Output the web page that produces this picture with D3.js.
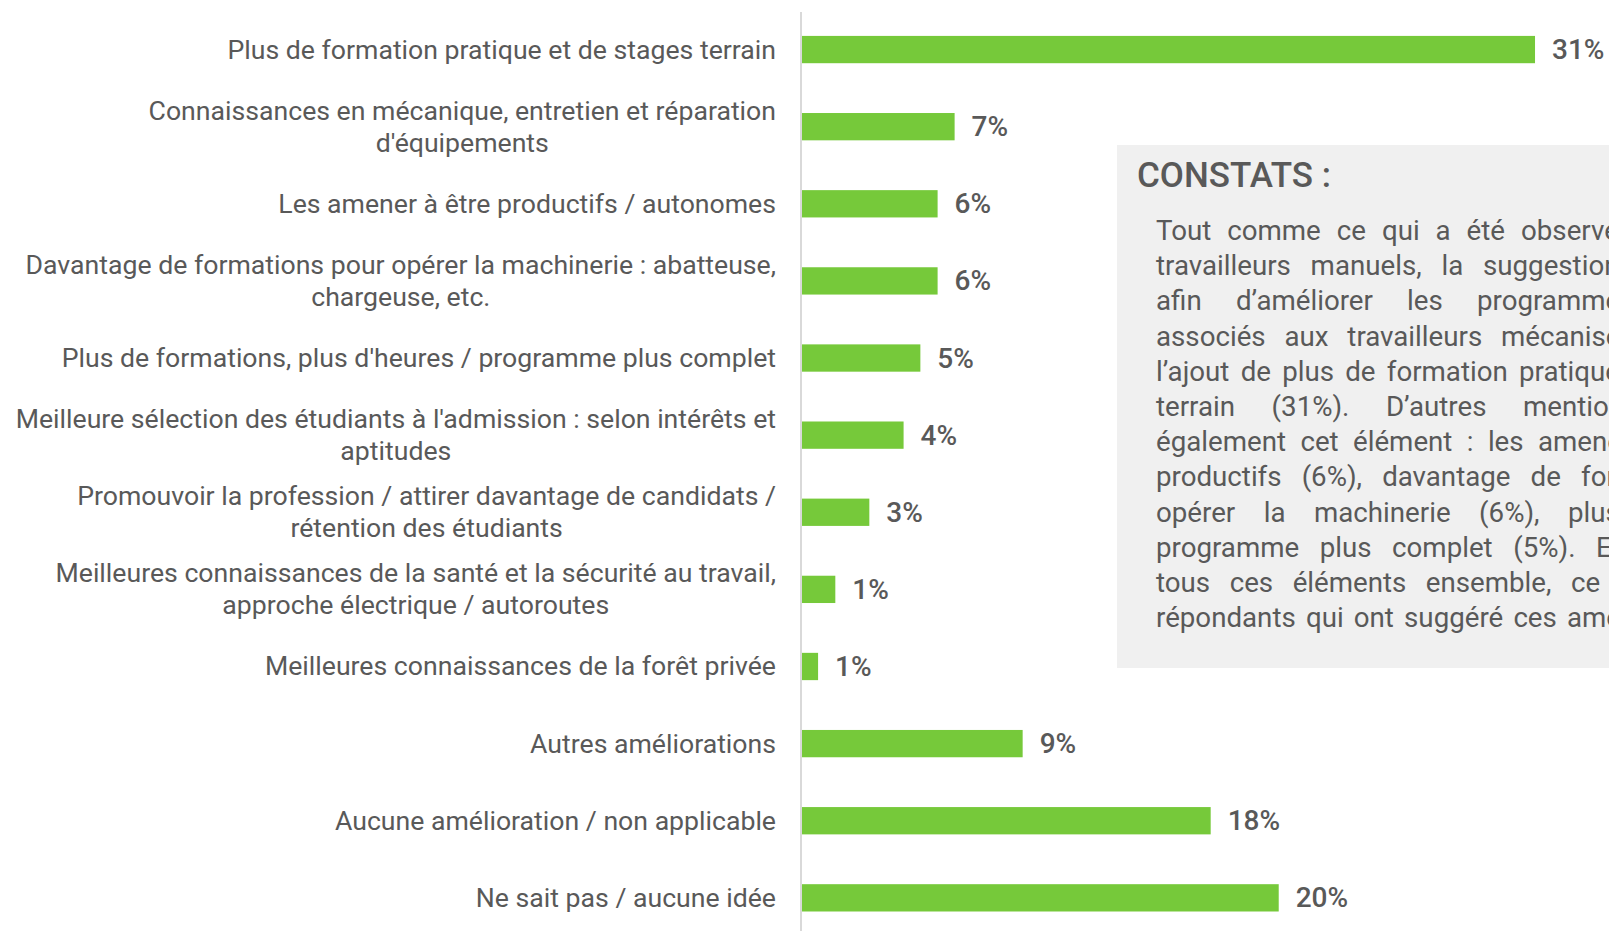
<!DOCTYPE html>
<html>
<head>
<meta charset="utf-8">
<script src="https://cdn.jsdelivr.net/npm/d3@7"></script>
<style>
  html, body { margin: 0; padding: 0; background: #ffffff; overflow: hidden; }
  svg { display: block; font-family: Roboto, "Noto Sans", sans-serif; }
</style>
</head>
<body>
<svg id="chart" width="1609" height="931"></svg>
<script>
// ---- data ----
const categories = [
  "Plus de formation pratique et de stages terrain",
  "Connaissances en mécanique, entretien et réparation\nd'équipements",
  "Les amener à être productifs / autonomes",
  "Davantage de formations pour opérer la machinerie : abatteuse,\nchargeuse, etc.",
  "Plus de formations, plus d'heures / programme plus complet",
  "Meilleure sélection des étudiants à l'admission : selon intérêts et\naptitudes",
  "Promouvoir la profession / attirer davantage de candidats /\nrétention des étudiants",
  "Meilleures connaissances de la santé et la sécurité au travail,\napproche électrique / autoroutes",
  "Meilleures connaissances de la forêt privée",
  "Autres améliorations",
  "Aucune amélioration / non applicable",
  "Ne sait pas / aucune idée"
];
const values = [31.46, 6.55, 5.82, 5.82, 5.08, 4.36, 2.89, 1.43, 0.69, 9.47, 17.54, 20.46];

const noteTitle = "CONSTATS :";
const noteLines = [
  "Tout comme ce qui a été observé",
  "travailleurs manuels, la suggestion",
  "afin d’améliorer les programmes",
  "associés aux travailleurs mécanisés",
  "l’ajout de plus de formation pratique",
  "terrain (31%). D’autres mentionnent",
  "également cet élément : les amener",
  "productifs (6%), davantage de formations",
  "opérer la machinerie (6%), plus",
  "programme plus complet (5%). En",
  "tous ces éléments ensemble, ce",
  "répondants qui ont suggéré ces améliorations"
];
// x position where the last (clipped) word of each justified line starts
const noteLastWordX = [1521, 1483, 1477, 1501, 1519, 1523, 1538, 1581, 1568, 1596, 1571, 1567];

function draw() {
  const svg = d3.select("#chart");
  const W = 1609, H = 931;
  const textColor = "#595959";
  const barColor = "#76c93a";
  const axisX = 802;

  const x = d3.scaleLinear().domain([0, 40]).range([axisX, axisX + 932]);
  const y = d3.scaleBand().domain(d3.range(categories.length))
    .range([11, 936.4]).paddingInner(0.646).paddingOuter(0.323);
  const fmt = v => d3.format(".0f")(v) + "%";

  // axis line
  svg.append("line")
    .attr("x1", axisX - 1).attr("x2", axisX - 1)
    .attr("y1", 12).attr("y2", H)
    .attr("stroke", "#d9d9d9").attr("stroke-width", 2);

  // bars
  svg.append("g").selectAll("rect").data(values).join("rect")
    .attr("x", x(0))
    .attr("y", (d, i) => y(i))
    .attr("width", d => x(d) - x(0))
    .attr("height", y.bandwidth())
    .attr("fill", barColor);

  // value labels
  svg.append("g").selectAll("text").data(values).join("text")
    .attr("x", d => x(d) + 17)
    .attr("y", (d, i) => y(i) + y.bandwidth() / 2)
    .attr("dominant-baseline", "central")
    .attr("font-size", 28)
    .attr("font-weight", 500)
    .attr("fill", textColor)
    .text(d => fmt(d));

  // category labels (right-aligned block, lines centered within block)
  const labelRight = 776;
  const labelSize = 26.65;
  const lineH = 31.8;
  const lg = svg.append("g");
  categories.forEach((c, i) => {
    const lines = c.split("\n");
    const cy = y(i) + y.bandwidth() / 2;
    const t = lg.append("text")
      .attr("font-size", labelSize)
      .attr("fill", textColor)
      .attr("text-anchor", "middle");
    const tsp = lines.map((ln, k) => t.append("tspan")
      .attr("y", cy + (k - (lines.length - 1) / 2) * lineH)
      .attr("dominant-baseline", "central")
      .text(ln));
    const maxW = d3.max(tsp, s => s.node().getComputedTextLength());
    tsp.forEach(s => s.attr("x", labelRight - maxW / 2));
  });

  // note box
  const boxX = 1117, boxY = 145, boxB = 668;
  svg.append("rect")
    .attr("x", boxX).attr("y", boxY)
    .attr("width", W - boxX + 20).attr("height", boxB - boxY)
    .attr("fill", "#f0f0f0");

  svg.append("text")
    .attr("x", 1137).attr("y", 187)
    .attr("font-size", 35).attr("font-weight", 500)
    .attr("fill", textColor)
    .text(noteTitle);

  const bodyLeft = 1156, bodyBase = 240, bodyLH = 35.2, bodySize = 27.7;
  const ng = svg.append("g").attr("font-size", bodySize).attr("fill", textColor);
  noteLines.forEach((ln, i) => {
    const words = ln.split(" ");
    const by = bodyBase + i * bodyLH;
    const nodes = words.map(w => ng.append("text").attr("y", by).text(w));
    const widths = nodes.map(n => n.node().getComputedTextLength());
    const prefix = d3.sum(widths.slice(0, -1));
    const gap = (noteLastWordX[i] - bodyLeft - prefix) / (words.length - 1);
    let cx = bodyLeft;
    nodes.forEach((n, k) => { n.attr("x", cx); cx += widths[k] + gap; });
  });
}

const fontLoads = document.fonts && document.fonts.load
  ? Promise.all([document.fonts.load("400 28px Roboto"), document.fonts.load("500 28px Roboto")]).catch(() => {})
  : Promise.resolve();
fontLoads.then(draw);
</script>
</body>
</html>
